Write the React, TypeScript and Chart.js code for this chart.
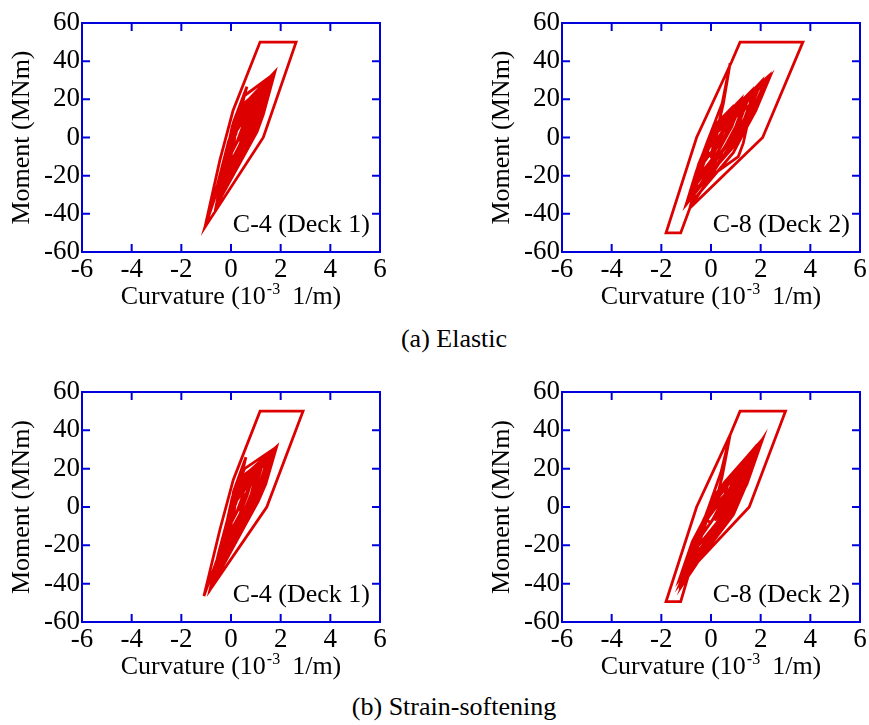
import React, { useEffect, useRef } from "react";
import { Chart, registerables } from "chart.js";

Chart.register(...registerables);

const FONT = "'Liberation Serif', 'Times New Roman', Times, serif";
const RED = "#dd0000";
const BLUE = "#0000dd";

const curvatureTicks = [-6, -4, -2, 0, 2, 4, 6];
const momentTicks = [-60, -40, -20, 0, 20, 40, 60];

const xTitleParts = ["Curvature (10", "-3", "  1/m)"];
const yTitle = "Moment (MNm)";
const captionA = "(a) Elastic";
const captionB = "(b) Strain-softening";
const panelLabels = ["C-4 (Deck 1)", "C-8 (Deck 2)", "C-4 (Deck 1)", "C-8 (Deck 2)"];

// (a) Elastic, C-4 (Deck 1): curvature (10^-3 1/m)
const elasticC4Curvature = [
  0,
  0.1, 0.3, 0.2, -0.15,
  0.0, 0.15, 0.6, 0.45, 0.25, -0.25,
  -0.05, 0.15, 0.9, 0.65, 0.35, -0.3,
  -0.1, 0.15, 1.2, 0.9, 0.5, -0.35,
  -0.1, 0.2, 1.45, 1.1, 0.6, -0.33,
  -0.1, 0.25, 1.57, 1.2, 0.7, -0.3,
  -0.05, 0.3, 1.35, 1.0, 0.55, -0.45,
  -0.2, 0.1, 0.45, 1.65, 1.25, 0.85, 0.0, -0.35,
  -0.05, 0.3, 1.0, 0.75, 0.2, -0.25,
  -0.15, 0.2, 0.5, 1.77, 1.3, 1.05, 0.5, -0.6,
  -0.3, 0.05, 0.35, 1.62, 1.2, 0.8, -0.2,
  0.0, 0.35, 1.4, 1.0, 0.45, -0.3,
  0.1, 0.4, 1.1, 0.8, 0.3, -0.4,
  0.05, 0.3, 0.55, 1.7, 1.35, 1.0, 0.3, -0.45,
  -0.15, 0.1, 0.64, 0.4, 0.1, -0.3,
  -1.05, -0.45, 0.08, 1.17, 2.62, 1.3, -1.05,
  -0.55, -0.1, 0.4, 1.5, 1.1, 0.6, -0.2,
  -0.1, 0.25, 1.25, 0.95, 0.6, -0.1,
  0.15, 0.9, 0.5, 0.1,
  0.2, 0.8, 0.6, 0.3,
];
// moment (MNm)
const elasticC4Moment = [
  0,
  4, 8, 2, -8,
  0, 7, 14, 5, -2, -15,
  -2, 8, 19, 7, -4, -20,
  -4, 9, 23, 9, -5, -24,
  -6, 10, 26, 10, -6, -28.4,
  -8, 9, 27.5, 10, -5, -26,
  -6, 7, 25, 8, -7, -31,
  -14, 5, 15, 31, 11, 0, -16, -27,
  -5, 10, 21, 6, -10, -22,
  -10, 11, 17, 34.5, 12, 3, -10, -36,
  -16, 6, 16, 30, 9, -2, -24,
  -2, 12, 27, 9, -6, -25,
  0, 12, 22, 8, -8, -30,
  0, 14, 22, 33, 15, 4, -12, -32,
  -12, 8, 26.6, 15, 2, -18,
  -47, -12, 14, 50, 50, 0, -47,
  -25, -2, 14, 28, 8, -4, -22,
  -8, 12, 25, 11, 0, -18,
  2, 17, 4, -6,
  6, 18, 8, -2,
];

// (a) Elastic, C-8 (Deck 2)
const elasticC8Curvature = [
  0,
  0.2, 0.4, 0.2, -0.3,
  -0.1, 0.2, 0.8, 0.55, 0.1, -0.5,
  -0.3, 0.1, 1.2, 0.85, 0.3, -0.65,
  -0.4, 0.1, 1.6, 1.15, 0.5, -0.8,
  -0.5, 0.05, 1.95, 1.45, 0.7, -0.91,
  -0.6, -0.1, 0.4, 2.25, 1.7, 1.2, 0.4, -0.75,
  -0.55, 0.1, 2.2, 1.6, 0.9, -0.85,
  -0.45, 0.0, 1.8, 1.35, 0.8, -0.6,
  -0.5, 0.0, 1.65, 1.3, 1.1, -0.2, -1.0,
  -0.6, -0.2, 0.45, 0.77, 0.5, 0.25, 0.1,
  0.7, 2.38, 1.8, 1.3, 0.9, -0.72,
  -0.35, 0.15, 0.6, 2.3, 1.75, 1.25, 0.5, -0.95,
  -0.4, 0.2, 2.0, 1.4, 0.6, -0.85,
  -1.22, -1.81, -0.58, 0.83, 1.17, 3.7, 2.08, -0.85,
  -0.45, 0.1, 1.5, 1.1, 0.4, -0.7,
  -0.55, 0.0, 1.4, 1.0, 0.35, -0.4,
  0.1, 0.5, 1.9, 1.5, 0.9, -0.5,
  -0.3, 0.2, 1.0, 0.6, 0.0,
  -0.2, 0.3, 1.2, 0.8, 0.2,
];
const elasticC8Moment = [
  0,
  6, 9, 0, -10,
  -3, 7, 15, 4, -6, -17,
  -8, 5, 20, 6, -7, -23,
  -12, 4, 24, 8, -6, -28,
  -14, 3, 27, 10, -6, -33.6,
  -20, -2, 8, 31, 14, 3, -12, -30,
  -17, 2, 30, 12, -5, -31,
  -16, 0, 26, 10, -2, -24,
  -15, 0, 18, -3, -10, -22, -35,
  -18, -4, 18, 38.9, 18, 4, -4,
  8, 32, 14, 2, -8, -33,
  -12, 2, 12, 32, 16, 5, -10, -34,
  -16, 4, 29, 9, -8, -37,
  -50, -50, 0, 39.7, 50, 50, 0, -37,
  -17, 3, 22, 6, -8, -30,
  -18, 1, 20, 6, -10, -18,
  2, 10, 27, 12, 0, -22,
  -10, 5, 15, 2, -10,
  -6, 6, 17, 5, -6,
];

// (b) Strain-softening, C-4 (Deck 1)
const softeningC4Curvature = [
  0,
  0.1, 0.3, 0.2, -0.12,
  0.0, 0.15, 0.6, 0.45, 0.25, -0.2,
  -0.05, 0.15, 0.9, 0.65, 0.35, -0.25,
  -0.08, 0.18, 1.2, 0.9, 0.5, -0.28,
  -0.08, 0.2, 1.5, 1.15, 0.65, -0.24,
  -0.18, 0.1, 0.45, 1.75, 1.3, 0.9, 0.05, -0.3,
  -0.05, 0.25, 1.65, 1.25, 0.75, -0.22,
  -0.05, 0.3, 1.05, 0.8, 0.25, -0.22,
  -0.02, 0.3, 1.45, 1.05, 0.6, -0.4,
  -0.12, 0.2, 0.5, 1.84, 1.4, 1.1, 0.55, -0.71,
  -0.3, 0.05, 0.35, 1.7, 1.25, 0.85, -0.15,
  0.0, 0.35, 1.5, 1.1, 0.5, -0.28,
  0.1, 0.4, 1.2, 0.85, 0.35, -0.35,
  0.05, 0.3, 0.55, 1.8, 1.4, 1.05, 0.35, -0.45,
  -0.12, 0.1, 0.6, 0.4, 0.1, -0.3,
  -1.09, -0.45, 0.09, 1.17, 2.9, 1.44, -0.85,
  -0.5, -0.05, 0.4, 1.6, 1.15, 0.65, -0.2,
  -0.1, 0.25, 1.3, 1.0, 0.65, -0.1,
  0.15, 0.95, 0.5, 0.1,
  0.2, 0.85, 0.65, 0.3,
];
const softeningC4Moment = [
  0,
  4, 7, 2, -7,
  0, 6, 13, 5, -2, -13,
  -2, 7, 17, 6, -4, -18,
  -4, 8, 21, 8, -5, -22,
  -6, 9, 24, 9, -6, -27.7,
  -13, 5, 14, 30, 11, 0, -15, -26,
  -8, 8, 26, 9, -5, -25,
  -5, 9, 20, 6, -10, -21,
  -6, 7, 24, 8, -7, -30,
  -10, 10, 16, 31.5, 12, 3, -10, -40,
  -16, 5, 15, 28, 8, -2, -24,
  -2, 11, 26, 9, -6, -24,
  0, 11, 21, 8, -8, -29,
  0, 13, 20, 31, 14, 4, -12, -31,
  -12, 8, 26, 15, 2, -18,
  -46.5, -12, 14.1, 50, 50, 0, -43.3,
  -24, -2, 13, 27, 8, -4, -22,
  -8, 11, 24, 10, 0, -17,
  2, 16, 4, -6,
  6, 17, 8, -2,
];

// (b) Strain-softening, C-8 (Deck 2)
const softeningC8Curvature = [
  0,
  0.2, 0.35, 0.15, -0.3,
  -0.1, 0.2, 0.75, 0.5, 0.05, -0.55,
  -0.3, 0.05, 1.1, 0.8, 0.25, -0.75,
  -0.45, 0.05, 1.45, 1.05, 0.4, -0.95,
  -0.7, -0.15, 0.4, 2.0, 1.5, 1.05, 0.3, -0.95,
  -0.6, 0.0, 1.75, 1.3, 0.55, -1.17,
  -0.5, 0.0, 1.6, 1.2, 0.6, -0.8,
  -0.7, 0.0, 1.95, 1.45, 0.7, -1.28,
  -0.75, -0.1, 1.3, 1.0, 0.0, -1.1,
  -0.7, -0.2, 0.4, 0.77, 0.45, 0.1,
  0.9, 2.08, 1.5, 0.9, 0.2, -1.25,
  -0.4, 0.1, 0.55, 2.05, 1.55, 1.1, 0.35, -1.15,
  -0.6, 0.1, 1.85, 1.2, 0.1, -0.85,
  -1.22, -1.81, -0.58, 0.77, 1.17, 3.0, 1.54, -0.85,
  -0.45, 0.1, 1.4, 1.0, 0.3, -0.9,
  -0.6, 0.0, 1.25, 0.9, 0.25, -0.5,
  0.05, 0.45, 1.7, 1.3, 0.75, -0.6,
  -0.35, 0.2, 1.0, 0.5, 0.0,
  -0.2, 0.3, 1.1, 0.7, 0.15,
];
const softeningC8Moment = [
  0,
  6, 9, 0, -10,
  -3, 7, 15, 4, -7, -18,
  -9, 5, 20, 6, -8, -24,
  -13, 4, 25, 8, -8, -30,
  -22, -2, 9, 34, 15, 3, -14, -34,
  -16, 2, 29, 10, -8, -41,
  -17, 0, 27, 10, -4, -28,
  -20, 1, 32, 12, -6, -38,
  -18, -2, 15.8, 5, -18, -36,
  -18, -4, 18, 37.6, 16, -2,
  12, 35.5, 14, -4, -16, -40,
  -13, 2, 13, 35, 17, 5, -12, -39,
  -17, 4, 30, 7, -16, -33,
  -49.4, -49.4, 0, 37.6, 50, 50, 0, -33,
  -15, 3, 22, 6, -10, -32,
  -19, 1, 21, 6, -10, -20,
  2, 11, 30, 13, 0, -25,
  -10, 5, 16, 3, -8,
  -7, 6, 18, 5, -7,
];

const decorPlugin = {
  id: "decor",
  afterDraw(chart: any, _args: any, opts: any) {
    const { ctx, chartArea: a } = chart;
    const xs = chart.scales.x;
    const ys = chart.scales.y;
    ctx.save();
    // frame and inward ticks on all four sides
    ctx.strokeStyle = BLUE;
    ctx.lineWidth = 2;
    ctx.strokeRect(a.left, a.top, a.right - a.left, a.bottom - a.top);
    const tl = 8;
    ctx.beginPath();
    for (const t of xs.ticks) {
      const p = xs.getPixelForValue(t.value);
      ctx.moveTo(p, a.bottom);
      ctx.lineTo(p, a.bottom - tl);
      ctx.moveTo(p, a.top);
      ctx.lineTo(p, a.top + tl);
    }
    for (const t of ys.ticks) {
      const p = ys.getPixelForValue(t.value);
      ctx.moveTo(a.left, p);
      ctx.lineTo(a.left + tl, p);
      ctx.moveTo(a.right, p);
      ctx.lineTo(a.right - tl, p);
    }
    ctx.stroke();

    ctx.fillStyle = "#000";
    // panel label
    ctx.font = `26px ${FONT}`;
    ctx.textAlign = "right";
    ctx.textBaseline = "alphabetic";
    ctx.fillText(opts.label, a.right - 10, a.bottom - 20);

    // x title with superscript
    const mainFont = `26px ${FONT}`;
    const supFont = `16px ${FONT}`;
    ctx.font = mainFont;
    const w1 = ctx.measureText(xTitleParts[0]).width;
    const w3 = ctx.measureText(xTitleParts[2]).width;
    ctx.font = supFont;
    const w2 = ctx.measureText(xTitleParts[1]).width;
    const total = w1 + w2 + w3;
    const x0 = (a.left + a.right) / 2 - total / 2;
    const base = a.bottom + 52;
    ctx.textAlign = "left";
    ctx.font = mainFont;
    ctx.fillText(xTitleParts[0], x0, base);
    ctx.font = supFont;
    ctx.fillText(xTitleParts[1], x0 + w1 + 1, base - 10);
    ctx.font = mainFont;
    ctx.fillText(xTitleParts[2], x0 + w1 + w2, base);

    // y title
    ctx.save();
    ctx.translate(a.left - 59.5, (a.top + a.bottom) / 2);
    ctx.rotate(-Math.PI / 2);
    ctx.textAlign = "center";
    ctx.textBaseline = "middle";
    ctx.font = `26px ${FONT}`;
    ctx.fillText(yTitle, 0, 0);
    ctx.restore();

    ctx.restore();
  },
};

type PanelProps = {
  left: number;
  top: number;
  canvasW: number;
  plotH: number;
  curv: number[];
  moment: number[];
  label: string;
};

const Y_AXIS_W = 82;
const PLOT_W = 298;
const PAD_TOP = 23;
const CANVAS_H = 320;

function Panel({ left, top, canvasW, plotH, curv, moment, label }: PanelProps) {
  const ref = useRef<HTMLCanvasElement>(null);
  useEffect(() => {
    const canvas = ref.current;
    if (!canvas) return;
    const points = curv.map((x, i) => ({ x, y: moment[i] }));
    const xAxisH = CANVAS_H - PAD_TOP - plotH;
    const chart = new Chart(canvas, {
      type: "scatter",
      data: {
        datasets: [
          {
            data: points,
            showLine: true,
            borderColor: RED,
            backgroundColor: RED,
            borderWidth: 2.8,
            pointRadius: 0,
            fill: false,
            tension: 0,
          },
        ],
      },
      options: {
        animation: false,
        responsive: false,
        devicePixelRatio: 1,
        events: [],
        layout: { padding: { top: PAD_TOP, left: 0, right: canvasW - Y_AXIS_W - PLOT_W, bottom: 0 } },
        plugins: {
          legend: { display: false },
          tooltip: { enabled: false },
          decor: { label },
        } as any,
        scales: {
          x: {
            type: "linear",
            min: -6,
            max: 6,
            afterBuildTicks: (s: any) => {
              s.ticks = curvatureTicks.map((value) => ({ value }));
            },
            afterFit: (s: any) => {
              s.height = xAxisH;
            },
            grid: { display: false, drawTicks: false },
            border: { display: false },
            ticks: {
              font: { family: FONT, size: 27 },
              color: "#000",
              padding: 2,
              maxRotation: 0,
              autoSkip: false,
            },
          },
          y: {
            type: "linear",
            min: -60,
            max: 60,
            afterBuildTicks: (s: any) => {
              s.ticks = momentTicks.map((value) => ({ value }));
            },
            afterFit: (s: any) => {
              s.width = Y_AXIS_W;
            },
            grid: { display: false, drawTicks: false },
            border: { display: false },
            ticks: {
              font: { family: FONT, size: 27 },
              color: "#000",
              padding: 2,
              autoSkip: false,
            },
          },
        },
      },
      plugins: [decorPlugin],
    });
    return () => chart.destroy();
  }, [canvasW, plotH, curv, moment, label]);
  return (
    <div style={{ position: "absolute", left, top, width: canvasW, height: CANVAS_H }}>
      <canvas
        ref={ref}
        width={canvasW}
        height={CANVAS_H}
        style={{ display: "block", width: canvasW, height: CANVAS_H }}
      />
    </div>
  );
}

const panels: PanelProps[] = [
  { left: 0, top: 0, canvasW: 430, plotH: 229, curv: elasticC4Curvature, moment: elasticC4Moment, label: panelLabels[0] },
  { left: 480, top: 0, canvasW: 389, plotH: 229, curv: elasticC8Curvature, moment: elasticC8Moment, label: panelLabels[1] },
  { left: 0, top: 369, canvasW: 430, plotH: 230, curv: softeningC4Curvature, moment: softeningC4Moment, label: panelLabels[2] },
  { left: 480, top: 369, canvasW: 389, plotH: 230, curv: softeningC8Curvature, moment: softeningC8Moment, label: panelLabels[3] },
];

const captionStyle: React.CSSProperties = {
  position: "absolute",
  left: 254,
  width: 400,
  lineHeight: "30px",
  fontSize: 26,
  fontFamily: FONT,
  textAlign: "center",
  color: "#000",
  whiteSpace: "nowrap",
};

export default function App() {
  return (
    <div
      style={{
        position: "absolute",
        left: 0,
        top: 0,
        width: 869,
        height: 725,
        overflow: "hidden",
        background: "#fff",
      }}
    >
      {panels.map((p, i) => (
        <Panel key={i} {...p} />
      ))}
      <div style={{ ...captionStyle, top: 324 }}>{captionA}</div>
      <div style={{ ...captionStyle, top: 692 }}>{captionB}</div>
    </div>
  );
}
